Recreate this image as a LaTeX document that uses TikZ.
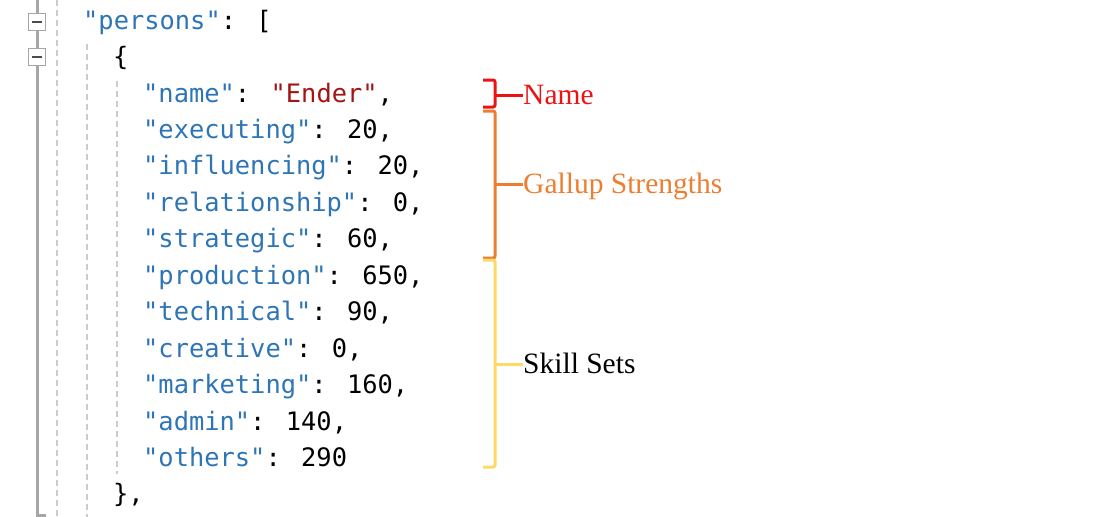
\documentclass[tikz,border=0pt]{standalone}
\usepackage{fontspec}
\setmainfont{Liberation Serif}
\newfontfamily\codefont{DejaVu Sans Mono}
\definecolor{keyblue}{HTML}{2E75B6}
\definecolor{strred}{HTML}{A31515}
\definecolor{namered}{RGB}{235,20,20}
\definecolor{gorange}{HTML}{ED7D31}
\definecolor{syellow}{HTML}{FFD966}
\definecolor{guidegray}{HTML}{CCCCCC}
\definecolor{bargray}{HTML}{A6A6A6}
\begin{document}
\begin{tikzpicture}[x=1pt,y=-1pt,
  code/.style={anchor=base west,inner sep=0pt,font=\codefont\fontsize{25.4}{30}\selectfont},
  lbl/.style={anchor=base west,inner sep=0pt,font=\fontsize{29.5}{34}\selectfont},
  guide/.style={draw=guidegray,line width=1.5pt,dash pattern=on 6pt off 4pt},
  brack/.style={line width=3pt,rounded corners=2pt},
  foldbox/.style={draw=bargray,fill=white,line width=1.3pt,minimum size=17pt,inner sep=0pt}]
\useasboundingbox (0,0) rectangle (1104,517);
% left gutter
\draw[bargray,line width=3pt] (37,0) -- (37,515) -- (46,515);
\node[foldbox] (f1) at (37,22) {};
\node[foldbox] (f2) at (37,57) {};
\draw[black!70,line width=1.4pt] ([xshift=4pt]f1.west) -- ([xshift=-4pt]f1.east);
\draw[black!70,line width=1.4pt] ([xshift=4pt]f2.west) -- ([xshift=-4pt]f2.east);
% indent guides
\draw[guide] (57,0) -- (57,517);
\draw[guide] (87,44) -- (87,517);
\draw[guide] (117,81) -- (117,474);
% code lines
\node[code] (l0) at (83,29) {\textcolor{keyblue}{"persons"}: [};
\node[code] (l1) at (113,65.5) {\{};
\node[code] (l2) at (143,102) {\textcolor{keyblue}{"name"}: \textcolor{strred}{"Ender"},};
\node[code] (l3) at (143,138.4) {\textcolor{keyblue}{"executing"}: 20,};
\node[code] (l4) at (143,174.8) {\textcolor{keyblue}{"influencing"}: 20,};
\node[code] (l5) at (143,211.3) {\textcolor{keyblue}{"relationship"}: 0,};
\node[code] (l6) at (143,247.7) {\textcolor{keyblue}{"strategic"}: 60,};
\node[code] (l7) at (143,284.2) {\textcolor{keyblue}{"production"}: 650,};
\node[code] (l8) at (143,320.6) {\textcolor{keyblue}{"technical"}: 90,};
\node[code] (l9) at (143,357.1) {\textcolor{keyblue}{"creative"}: 0,};
\node[code] (l10) at (143,393.5) {\textcolor{keyblue}{"marketing"}: 160,};
\node[code] (l11) at (143,430) {\textcolor{keyblue}{"admin"}: 140,};
\node[code] (l12) at (143,466.4) {\textcolor{keyblue}{"others"}: 290};
\node[code] (l13) at (113,502.8) {\},};
% labels
\node[lbl,text=namered] (nm) at (523,104) {Name};
\node[lbl,text=gorange] (gs) at (523,193) {Gallup Strengths};
\node[lbl,text=black] (ss) at (523,373) {Skill Sets};
% brackets
\draw[brack,namered] (483,80) -- (495,80) -- (495,107) -- (483,107);
\coordinate (nmid) at (495,95);
\draw[namered,line width=3pt] (nmid) -- (nmid -| nm.west);
\draw[brack,gorange] (483,111) -- (495,111) -- (495,258) -- (483,258);
\coordinate (gmid) at (495,184);
\draw[gorange,line width=3pt] (gmid) -- (gmid -| gs.west);
\draw[brack,syellow] (483,260) -- (495,260) -- (495,467) -- (483,467);
\coordinate (smid) at (495,364);
\draw[syellow,line width=3pt] (smid) -- (smid -| ss.west);
\end{tikzpicture}
\end{document}
